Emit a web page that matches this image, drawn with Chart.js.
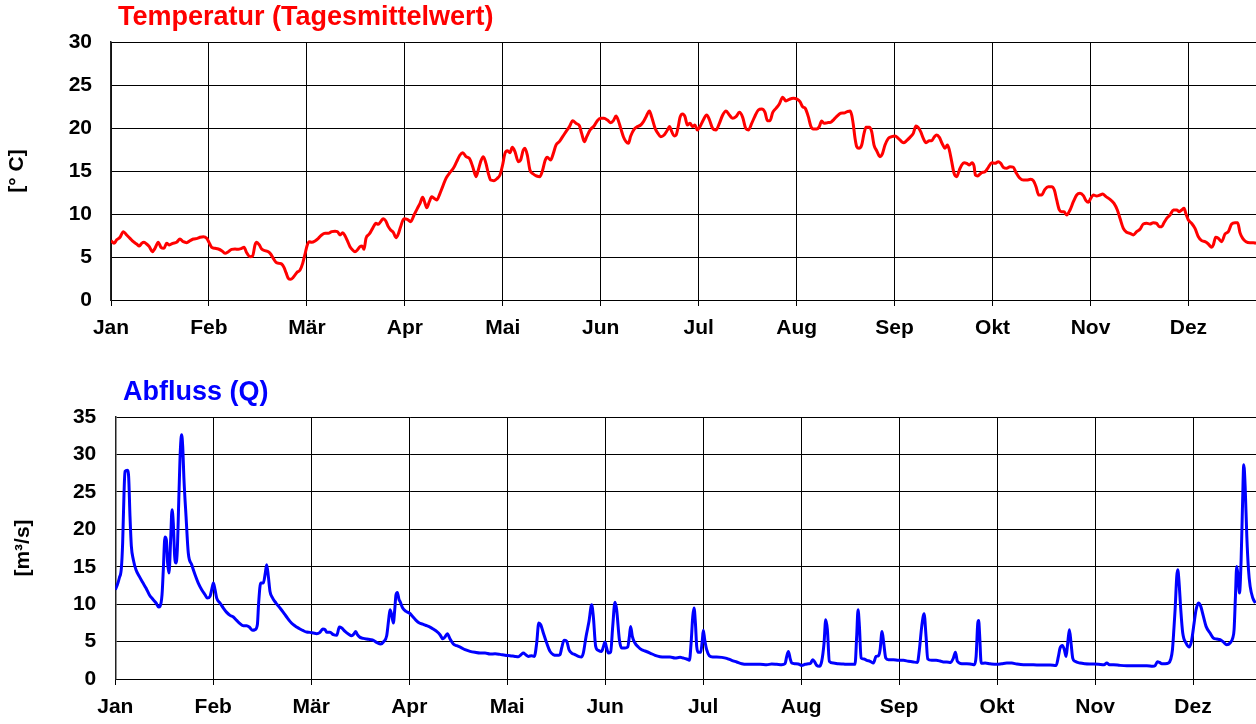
<!DOCTYPE html>
<html>
<head>
<meta charset="utf-8">
<script src="https://cdn.jsdelivr.net/npm/chart.js@4"></script>
<style>
html,body{margin:0;padding:0;overflow:hidden;background:#fff;width:1256px;height:724px;}
#c1{position:absolute;left:0;top:0;}
#c2{position:absolute;left:0;top:375px;}
</style>
</head>
<body>
<canvas id="c1" width="1290" height="345"></canvas>
<canvas id="c2" width="1295" height="349"></canvas>
<script>
// Month labels (x positions are month index + fraction of month)
const monthLabels = ['Jan','Feb','Mär','Apr','Mai','Jun','Jul','Aug','Sep','Okt','Nov','Dez'];

// Temperature (daily mean) [month position, °C]
const tempPoints = [
[0,6.90],[0.031,6.59],[0.058,7.00],[0.092,7.29],[0.126,7.95],[0.160,7.56],[0.194,7.17],[0.228,6.78],[0.262,6.51],[0.289,6.28],
[0.313,6.59],[0.337,6.71],[0.364,6.51],[0.391,6.20],[0.422,5.62],[0.449,6.01],[0.483,6.71],[0.510,6.12],[0.541,6.01],[0.568,6.59],
[0.596,6.40],[0.630,6.59],[0.670,6.71],[0.704,7.09],[0.738,6.78],[0.773,6.67],[0.807,6.90],[0.841,7.09],[0.881,7.17],[0.909,7.29],
[0.943,7.36],[0.977,7.17],[0.997,6.78],[1.028,6.12],[1.062,6.01],[1.096,5.93],[1.130,5.74],[1.164,5.43],[1.198,5.62],[1.232,5.89],
[1.266,5.93],[1.300,5.89],[1.334,6.01],[1.358,6.12],[1.385,5.50],[1.419,5.04],[1.446,5.12],[1.470,6.40],[1.487,6.71],[1.514,6.40],
[1.538,5.93],[1.572,5.74],[1.606,5.62],[1.630,5.35],[1.657,4.84],[1.685,4.38],[1.719,4.26],[1.742,4.19],[1.766,3.80],[1.787,3.18],
[1.810,2.52],[1.834,2.40],[1.861,2.64],[1.896,3.18],[1.930,3.49],[1.957,4.26],[1.981,5.35],[2.004,6.40],[2.025,6.78],[2.049,6.71],
[2.083,6.86],[2.117,7.17],[2.151,7.56],[2.185,7.75],[2.219,7.75],[2.253,7.95],[2.287,7.98],[2.311,7.95],[2.338,7.56],[2.365,7.83],
[2.389,7.48],[2.413,6.90],[2.440,6.20],[2.467,5.81],[2.491,5.62],[2.515,5.81],[2.542,6.20],[2.563,6.28],[2.583,5.89],[2.603,7.17],
[2.637,7.67],[2.671,8.33],[2.705,8.91],[2.729,8.80],[2.753,9.11],[2.780,9.46],[2.804,9.22],[2.831,8.53],[2.855,8.14],[2.882,7.87],
[2.910,7.25],[2.933,7.67],[2.957,8.53],[2.991,9.46],[3.025,9.38],[3.059,9.11],[3.094,9.88],[3.128,10.66],[3.155,11.24],[3.182,11.94],
[3.206,11.24],[3.223,10.74],[3.250,11.43],[3.274,12.02],[3.298,11.82],[3.325,11.63],[3.359,12.40],[3.386,13.18],[3.420,14.15],[3.454,14.73],
[3.495,15.31],[3.529,16.09],[3.563,16.86],[3.591,17.13],[3.625,16.67],[3.659,16.47],[3.693,15.50],[3.727,14.34],[3.750,15.12],[3.774,16.09],
[3.801,16.67],[3.828,15.89],[3.852,14.73],[3.876,13.95],[3.910,13.88],[3.944,14.15],[3.971,14.53],[3.998,15.70],[4.022,17.05],[4.046,17.36],
[4.073,17.13],[4.097,17.75],[4.124,17.25],[4.158,16.09],[4.182,16.28],[4.209,17.44],[4.226,17.64],[4.250,16.86],[4.277,15.12],[4.311,14.65],
[4.345,14.42],[4.379,14.34],[4.407,15.12],[4.431,16.20],[4.454,16.59],[4.488,16.28],[4.516,17.05],[4.543,18.02],[4.577,18.41],[4.611,18.99],
[4.645,19.57],[4.680,20.16],[4.714,20.85],[4.748,20.54],[4.782,20.27],[4.805,19.38],[4.833,18.41],[4.857,18.99],[4.891,19.77],[4.931,20.23],
[4.965,20.85],[4.999,21.12],[5.033,21.12],[5.068,20.93],[5.102,20.62],[5.129,20.85],[5.156,21.40],[5.180,20.85],[5.204,19.96],[5.231,18.99],
[5.258,18.41],[5.282,18.22],[5.306,19.07],[5.340,19.84],[5.374,20.16],[5.408,20.35],[5.436,20.74],[5.463,21.32],[5.497,21.98],[5.521,21.24],
[5.555,19.96],[5.579,19.46],[5.613,18.99],[5.647,19.19],[5.681,19.77],[5.702,20.16],[5.725,19.57],[5.749,19.07],[5.770,19.19],[5.794,20.35],
[5.809,21.24],[5.836,21.63],[5.860,21.32],[5.884,20.35],[5.911,20.54],[5.938,20.16],[5.962,20.35],[5.986,19.77],[6.013,20.16],[6.047,20.93],
[6.081,21.51],[6.108,21.01],[6.142,19.96],[6.176,19.77],[6.211,20.54],[6.245,21.51],[6.279,21.98],[6.313,21.51],[6.347,21.12],[6.381,21.32],
[6.415,21.82],[6.449,21.24],[6.480,19.96],[6.507,19.77],[6.541,20.54],[6.575,21.40],[6.609,22.09],[6.643,22.21],[6.677,21.82],[6.701,20.85],
[6.728,20.85],[6.755,21.78],[6.789,22.29],[6.823,22.79],[6.857,23.57],[6.891,23.14],[6.925,23.33],[6.966,23.45],[7.007,23.33],[7.034,23.06],
[7.061,22.48],[7.088,22.29],[7.119,21.32],[7.143,20.27],[7.170,19.88],[7.204,19.88],[7.231,20.16],[7.255,20.81],[7.279,20.54],[7.313,20.62],
[7.347,20.66],[7.381,21.01],[7.415,21.40],[7.449,21.71],[7.483,21.74],[7.517,21.90],[7.545,21.98],[7.562,21.51],[7.579,20.35],[7.596,18.80],
[7.613,17.83],[7.636,17.64],[7.664,18.02],[7.688,19.38],[7.708,20.08],[7.742,20.08],[7.766,19.57],[7.790,18.02],[7.817,17.36],[7.851,16.67],
[7.875,16.98],[7.902,18.02],[7.936,18.80],[7.970,18.99],[8.004,19.07],[8.038,18.80],[8.072,18.41],[8.096,18.29],[8.123,18.53],[8.157,18.91],
[8.191,19.38],[8.218,20.23],[8.239,20.08],[8.266,19.57],[8.293,18.80],[8.321,18.29],[8.355,18.53],[8.379,18.53],[8.402,18.91],[8.430,19.19],
[8.457,18.91],[8.484,18.22],[8.515,17.64],[8.539,18.02],[8.559,17.44],[8.583,16.09],[8.607,14.73],[8.634,14.34],[8.661,15.12],[8.685,15.70],
[8.709,15.97],[8.736,15.89],[8.763,15.70],[8.790,15.97],[8.811,15.58],[8.825,14.53],[8.849,14.42],[8.872,14.65],[8.889,14.81],[8.923,14.92],
[8.957,15.43],[8.991,15.97],[9.025,15.89],[9.059,16.09],[9.083,15.89],[9.110,15.43],[9.144,15.31],[9.178,15.50],[9.212,15.43],[9.240,14.81],
[9.274,14.22],[9.315,13.95],[9.349,13.95],[9.389,14.03],[9.416,13.88],[9.444,13.18],[9.471,12.21],[9.501,12.21],[9.535,12.87],[9.569,13.18],
[9.603,13.18],[9.631,12.79],[9.655,11.63],[9.682,10.47],[9.706,10.27],[9.729,10.27],[9.757,9.88],[9.791,10.47],[9.825,11.43],[9.859,12.21],
[9.893,12.40],[9.927,12.13],[9.954,11.55],[9.978,11.36],[10.002,11.82],[10.029,12.21],[10.063,12.09],[10.097,12.21],[10.124,12.33],[10.158,12.02],
[10.199,11.71],[10.240,11.24],[10.274,10.47],[10.301,9.50],[10.335,8.33],[10.369,7.87],[10.403,7.75],[10.437,7.56],[10.471,7.95],[10.505,8.22],
[10.539,8.84],[10.573,8.91],[10.607,8.84],[10.641,8.99],[10.675,8.91],[10.703,8.53],[10.727,8.53],[10.750,8.99],[10.778,9.50],[10.812,9.88],
[10.846,10.47],[10.880,10.47],[10.907,10.27],[10.931,10.47],[10.955,10.66],[10.975,10.00],[10.999,9.30],[11.033,8.91],[11.067,8.33],[11.101,7.36],
[11.135,6.90],[11.169,6.78],[11.203,6.51],[11.237,6.12],[11.254,6.40],[11.278,7.29],[11.305,7.17],[11.339,6.78],[11.373,7.67],[11.407,7.95],
[11.441,8.84],[11.475,8.99],[11.503,8.99],[11.526,7.83],[11.554,7.17],[11.588,6.78],[11.628,6.67],[11.662,6.67],[11.690,6.59]
];

// Discharge Q [month position, m³/s]
const flowPoints = [
[0,11.93],[0.021,12.59],[0.041,13.49],[0.062,14.82],[0.075,18.16],[0.089,24.84],[0.099,27.73],[0.123,27.87],[0.136,27.07],[0.150,21.72],
[0.164,17.72],[0.184,15.94],[0.211,14.60],[0.245,13.71],[0.279,12.91],[0.313,12.15],[0.347,11.26],[0.381,10.68],[0.416,10.15],[0.443,9.61],
[0.456,9.70],[0.477,11.26],[0.490,14.60],[0.507,18.96],[0.521,18.61],[0.534,15.49],[0.548,14.15],[0.565,18.61],[0.579,22.61],[0.592,20.83],
[0.606,16.38],[0.620,15.49],[0.633,17.27],[0.650,24.84],[0.664,30.63],[0.677,32.63],[0.688,31.07],[0.701,26.62],[0.722,21.72],[0.745,16.83],
[0.780,15.27],[0.814,13.93],[0.847,12.82],[0.882,11.93],[0.916,11.26],[0.939,10.81],[0.967,11.04],[0.984,11.93],[1.001,12.82],[1.018,11.93],
[1.035,10.81],[1.069,10.15],[1.103,9.48],[1.137,8.90],[1.171,8.50],[1.205,8.28],[1.239,7.83],[1.273,7.39],[1.307,7.12],[1.341,7.12],
[1.368,6.94],[1.402,6.50],[1.426,6.59],[1.450,7.25],[1.463,10.15],[1.484,12.82],[1.511,12.82],[1.531,14.15],[1.545,15.27],[1.562,13.71],
[1.579,11.70],[1.606,10.81],[1.640,10.15],[1.681,9.48],[1.715,8.90],[1.749,8.28],[1.783,7.70],[1.817,7.25],[1.851,6.94],[1.885,6.68],
[1.919,6.45],[1.953,6.27],[1.987,6.23],[2.021,6.14],[2.055,6.05],[2.089,6.23],[2.117,6.68],[2.141,6.59],[2.158,6.23],[2.192,6.23],
[2.226,5.92],[2.260,5.83],[2.287,6.94],[2.311,6.81],[2.345,6.36],[2.379,6.01],[2.413,5.78],[2.437,6.05],[2.454,6.36],[2.471,5.92],
[2.498,5.56],[2.532,5.43],[2.566,5.34],[2.607,5.25],[2.634,5.16],[2.668,4.89],[2.709,4.67],[2.736,4.94],[2.770,5.78],[2.790,7.92],
[2.804,9.25],[2.821,8.58],[2.838,7.47],[2.852,9.25],[2.865,11.26],[2.879,11.57],[2.896,10.59],[2.906,10.37],[2.933,9.48],[2.967,9.03],
[3.001,8.81],[3.035,8.36],[3.070,7.83],[3.104,7.48],[3.138,7.34],[3.178,7.12],[3.212,6.94],[3.246,6.67],[3.280,6.36],[3.314,5.92],
[3.342,5.38],[3.365,5.61],[3.389,6.05],[3.417,5.34],[3.450,4.67],[3.484,4.45],[3.525,4.23],[3.570,3.91],[3.621,3.69],[3.671,3.56],
[3.723,3.47],[3.774,3.47],[3.825,3.33],[3.876,3.38],[3.927,3.29],[3.978,3.16],[4.029,3.11],[4.080,3.02],[4.114,2.98],[4.141,3.25],
[4.165,3.47],[4.189,3.25],[4.216,3.02],[4.250,3.11],[4.277,3.02],[4.301,4.80],[4.322,7.48],[4.342,7.25],[4.369,6.14],[4.403,4.80],
[4.437,3.69],[4.471,3.25],[4.505,3.16],[4.539,3.25],[4.556,4.14],[4.580,5.16],[4.607,5.03],[4.631,3.91],[4.658,3.47],[4.692,3.25],
[4.726,3.02],[4.760,2.94],[4.777,3.47],[4.805,5.69],[4.835,7.70],[4.862,9.92],[4.879,8.36],[4.903,4.36],[4.930,3.83],[4.964,3.69],
[4.981,4.27],[4.998,4.94],[5.015,4.14],[5.032,3.47],[5.056,3.60],[5.077,7.03],[5.100,10.24],[5.117,9.25],[5.145,5.25],[5.168,4.14],
[5.202,4.14],[5.230,4.27],[5.247,5.69],[5.260,7.03],[5.277,5.69],[5.304,4.80],[5.338,4.27],[5.373,3.91],[5.407,3.74],[5.458,3.47],
[5.509,3.16],[5.560,2.98],[5.611,2.94],[5.662,2.94],[5.713,2.80],[5.764,2.89],[5.798,2.80],[5.832,2.67],[5.860,2.49],[5.877,4.80],
[5.894,8.36],[5.907,9.48],[5.921,7.47],[5.934,4.36],[5.951,3.56],[5.975,3.56],[5.992,5.25],[6.002,6.50],[6.016,5.25],[6.036,3.91],
[6.063,3.11],[6.097,2.94],[6.138,2.94],[6.190,2.89],[6.240,2.76],[6.291,2.49],[6.342,2.27],[6.394,2.04],[6.445,1.96],[6.513,1.96],
[6.581,1.96],[6.649,1.91],[6.700,2.00],[6.751,1.96],[6.802,1.91],[6.836,2.04],[6.853,3.02],[6.870,3.69],[6.887,2.80],[6.904,2.13],
[6.938,2.04],[6.972,2.00],[7.006,1.82],[7.040,1.96],[7.074,2.04],[7.098,2.13],[7.118,2.58],[7.135,2.36],[7.159,1.82],[7.186,1.69],
[7.210,2.36],[7.234,4.80],[7.251,7.92],[7.268,6.58],[7.288,2.36],[7.329,2.13],[7.380,2.04],[7.431,2.00],[7.482,1.96],[7.550,1.96],
[7.567,5.69],[7.581,9.25],[7.595,7.03],[7.612,2.80],[7.642,2.67],[7.670,2.49],[7.704,2.36],[7.738,2.13],[7.765,3.02],[7.789,3.11],
[7.806,3.91],[7.826,6.36],[7.843,4.80],[7.864,2.80],[7.891,2.58],[7.942,2.58],[7.993,2.49],[8.044,2.49],[8.095,2.36],[8.146,2.27],
[8.187,2.22],[8.207,3.91],[8.231,7.03],[8.255,8.72],[8.275,5.69],[8.292,2.67],[8.333,2.49],[8.378,2.49],[8.418,2.40],[8.452,2.27],
[8.486,2.27],[8.527,2.22],[8.554,2.80],[8.575,3.56],[8.595,2.36],[8.640,2.04],[8.691,2.04],[8.742,1.96],[8.769,1.91],[8.786,3.02],
[8.803,7.47],[8.812,7.83],[8.822,5.90],[8.838,2.10],[8.878,2.13],[8.928,2.04],[8.996,1.96],[9.047,2.04],[9.099,2.13],[9.150,2.13],
[9.201,2.00],[9.269,1.91],[9.337,1.91],[9.405,1.87],[9.473,1.87],[9.541,1.87],[9.603,1.82],[9.626,3.02],[9.643,4.14],[9.667,4.49],
[9.687,3.91],[9.704,3.02],[9.721,4.80],[9.738,6.58],[9.755,4.80],[9.772,2.80],[9.796,2.36],[9.847,2.13],[9.898,2.04],[9.966,2.00],
[10.034,1.96],[10.092,1.91],[10.120,2.13],[10.147,1.91],[10.188,1.91],[10.256,1.82],[10.324,1.78],[10.392,1.78],[10.460,1.78],[10.528,1.78],
[10.589,1.69],[10.613,1.78],[10.637,2.31],[10.658,2.22],[10.681,2.04],[10.716,2.04],[10.750,2.13],[10.773,2.67],[10.790,3.91],[10.800,5.69],
[10.817,9.25],[10.834,13.71],[10.844,14.60],[10.858,12.82],[10.875,9.25],[10.895,6.14],[10.929,4.80],[10.963,4.27],[10.987,5.25],[11.011,7.47],
[11.031,9.25],[11.055,10.15],[11.079,9.70],[11.106,8.36],[11.133,7.03],[11.174,6.14],[11.208,5.47],[11.242,5.34],[11.276,5.25],[11.310,4.94],
[11.344,4.58],[11.378,4.80],[11.405,5.47],[11.419,6.58],[11.433,11.04],[11.446,15.04],[11.460,13.71],[11.474,11.48],[11.491,15.94],[11.504,22.61],
[11.518,28.62],[11.532,25.73],[11.549,19.05],[11.566,14.60],[11.583,12.37],[11.610,10.81],[11.637,10.15]
];

const FONT = '"Liberation Sans", Arial, Helvetica, sans-serif';
Chart.defaults.font.family = FONT;
Chart.defaults.color = '#000';

const titleShift = {
  id: 'titleShift',
  afterLayout(chart, args, opts) {
    const t = chart.titleBlock;
    if (t) { t.left += opts.dx; t.right += opts.dx; }
  }
};

function makeChart(id, cfg) {
  return new Chart(document.getElementById(id), {
    type: 'line',
    data: {
      datasets: [{
        data: cfg.points.map(p => ({x: p[0], y: p[1]})),
        borderColor: cfg.color,
        borderWidth: 3,
        pointRadius: 0,
        fill: false,
        cubicInterpolationMode: 'monotone'
      }]
    },
    plugins: [titleShift],
    options: {
      responsive: false,
      animation: false,
      events: [],
      layout: { padding: { left: 0, right: cfg.padRight, top: 0, bottom: 0 } },
      plugins: {
        legend: { display: false },
        tooltip: { enabled: false },
        titleShift: { dx: cfg.titleDx },
        title: {
          display: true,
          text: cfg.title,
          color: cfg.color,
          align: 'start',
          fullSize: false,
          font: { size: 27, weight: 'bold', lineHeight: 1.2 },
          padding: { top: 1.8, bottom: 7.8 }
        }
      },
      scales: {
        x: {
          type: 'linear',
          min: 0,
          max: 12,
          afterFit: s => { s.height = 45; },
          ticks: {
            stepSize: 1,
            autoSkip: false,
            maxRotation: 0,
            padding: 10,
            color: '#000',
            font: { size: 21, weight: 'bold' },
            callback: v => monthLabels[v]
          },
          grid: { color: '#000', lineWidth: 1, drawTicks: true, tickLength: 6, tickColor: '#000' },
          border: { color: '#000', width: 1 }
        },
        y: {
          min: 0,
          max: cfg.yMax,
          afterFit: s => { s.width = cfg.yWidth; },
          ticks: {
            stepSize: 5,
            padding: 19,
            color: '#000',
            font: { size: 21, weight: 'bold' }
          },
          grid: { color: '#000', lineWidth: 1, drawTicks: false },
          border: { color: '#222', width: 1.5 },
          title: {
            display: true,
            text: cfg.yTitle,
            color: '#000',
            font: { size: 21, weight: 'bold', lineHeight: 1.2 },
            padding: { top: cfg.yTitlePad, bottom: 0 }
          }
        }
      }
    }
  });
}

makeChart('c1', {
  points: tempPoints, color: '#ff0000', title: 'Temperatur (Tagesmittelwert)',
  yMax: 30, yTitle: '[° C]', yWidth: 111, yTitlePad: 5, padRight: 3.6, titleDx: 7
});
makeChart('c2', {
  points: flowPoints, color: '#0000ff', title: 'Abfluss (Q)',
  yMax: 35, yTitle: '[m³/s]', yWidth: 115.3, yTitlePad: 10.4, padRight: 4, titleDx: 7.7
});
</script>
</body>
</html>
